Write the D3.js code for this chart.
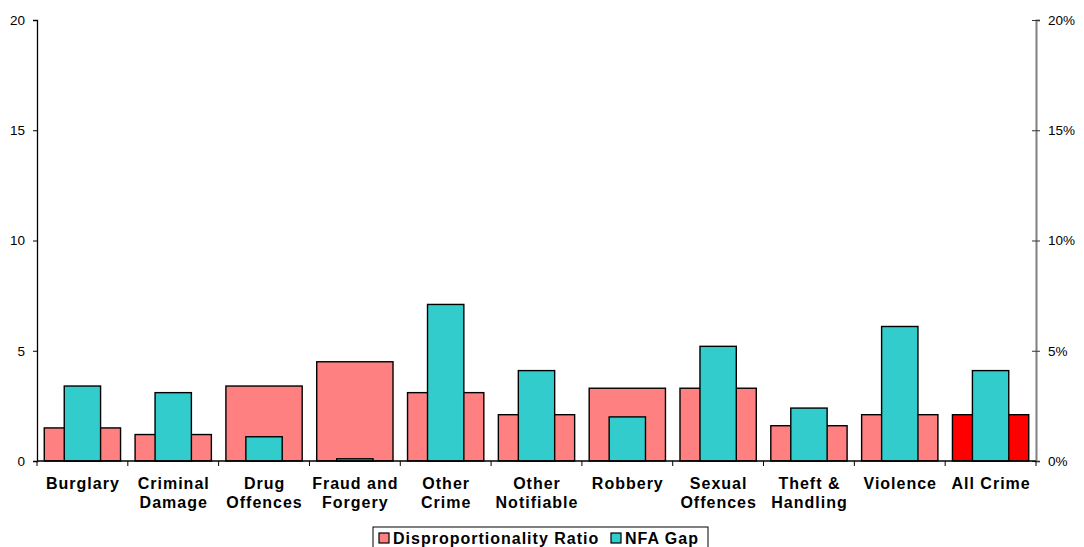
<!DOCTYPE html>
<html><head><meta charset="utf-8">
<script src="https://cdn.jsdelivr.net/npm/d3@7"></script>
<style>body{margin:0;background:#fff}svg{display:block}</style>
</head><body>
<script>
const categories = [["Burglary"],["Criminal","Damage"],["Drug","Offences"],["Fraud and","Forgery"],["Other","Crime"],["Other","Notifiable"],["Robbery"],["Sexual","Offences"],["Theft &","Handling"],["Violence"],["All Crime"]];
const ratioValues = [1.5,1.2,3.4,4.5,3.1,2.1,3.3,3.3,1.6,2.1,2.1];
const nfaGapValues = [0.034,0.031,0.011,0.001,0.071,0.041,0.020,0.052,0.024,0.061,0.041];
const leftTicks = [0,5,10,15,20];
const rightTicks = [0,0.05,0.10,0.15,0.20];
const seriesNames = ["Disproportionality Ratio","NFA Gap"];

const W=1084,H=547;
const L=37,R=1036,T=20,B=461;
const svg=d3.select("body").append("svg").attr("width",W).attr("height",H);
const keys=categories.map(c=>c.join(" "));
const x=d3.scaleBand().domain(keys).range([L,R]).padding(0);
const y=d3.scaleLinear().domain([0,20]).range([B,T]);
const y2=d3.scaleLinear().domain([0,0.2]).range([B,T]);
const font="Liberation Sans, Arial, sans-serif";
const bw=x.bandwidth();
const pinkW=bw*0.84, tealW=bw*0.40;

// pink bars
svg.append("g").selectAll("rect").data(ratioValues).join("rect")
  .attr("x",(d,i)=>x(keys[i])+bw/2-pinkW/2)
  .attr("y",d=>y(d)).attr("width",pinkW).attr("height",d=>B-y(d))
  .attr("fill",(d,i)=>i===keys.length-1?"#FF0000":"#FF8080")
  .attr("stroke","#000").attr("stroke-width",1.4);
// teal bars
svg.append("g").selectAll("rect").data(nfaGapValues).join("rect")
  .attr("x",(d,i)=>x(keys[i])+bw/2-tealW/2)
  .attr("y",d=>y2(d)).attr("width",tealW).attr("height",d=>B-y2(d))
  .attr("fill","#33CCCC")
  .attr("stroke","#000").attr("stroke-width",1.4);

// left axis
const la=svg.append("g").attr("transform",`translate(${L},0)`)
  .call(d3.axisLeft(y).tickValues(leftTicks).tickSize(4).tickPadding(8).tickFormat(d3.format("d")));
la.select(".domain").attr("stroke","#000").attr("stroke-width",1.3);
la.selectAll(".tick line").attr("stroke","#000");
la.selectAll("text").attr("font-family",font).attr("font-size",13.5).attr("fill","#000");

// right axis
const ra=svg.append("g").attr("transform",`translate(${R},0)`)
  .call(d3.axisRight(y2).tickValues(rightTicks).tickSize(4).tickPadding(8).tickFormat(d3.format(".0%")));
ra.select(".domain").attr("stroke","#808080").attr("stroke-width",2);
ra.selectAll(".tick line").attr("stroke","#333").attr("x1",-4);
ra.selectAll("text").attr("font-family",font).attr("font-size",13.5).attr("fill","#000");

// x baseline and ticks
svg.append("line").attr("x1",L).attr("x2",R).attr("y1",B).attr("y2",B).attr("stroke","#000").attr("stroke-width",1.3);
const bounds=keys.map(k=>x(k)).concat([R]);
svg.append("g").selectAll("line").data(bounds).join("line")
  .attr("x1",d=>d).attr("x2",d=>d).attr("y1",B).attr("y2",B+5).attr("stroke","#000");

// category labels
const lab=svg.append("g").selectAll("text").data(categories).join("text")
  .attr("x",(d,i)=>x(keys[i])+bw/2+0.5).attr("y",489)
  .attr("text-anchor","middle").attr("font-family",font).attr("font-weight","bold")
  .attr("font-size",16).attr("letter-spacing",1).attr("fill","#000");
lab.each(function(d){
  const t=d3.select(this);
  d.forEach((s,j)=>t.append("tspan").attr("x",t.attr("x")).attr("dy",j===0?0:19).text(s));
});

// legend
const lg=svg.append("g");
lg.append("rect").attr("x",373).attr("y",527).attr("width",335).attr("height",30).attr("fill","#fff").attr("stroke","#000").attr("stroke-width",1);
const items=[{name:seriesNames[0],color:"#FF8080",x:379},{name:seriesNames[1],color:"#33CCCC",x:611}];
items.forEach(it=>{
  lg.append("rect").attr("x",it.x).attr("y",533).attr("width",10).attr("height",10).attr("fill",it.color).attr("stroke","#000").attr("stroke-width",1.2);
  lg.append("text").attr("x",it.x+14).attr("y",544).attr("font-family",font).attr("font-weight","bold")
    .attr("font-size",16).attr("letter-spacing",1).attr("fill","#000").text(it.name);
});
</script>
</body></html>
